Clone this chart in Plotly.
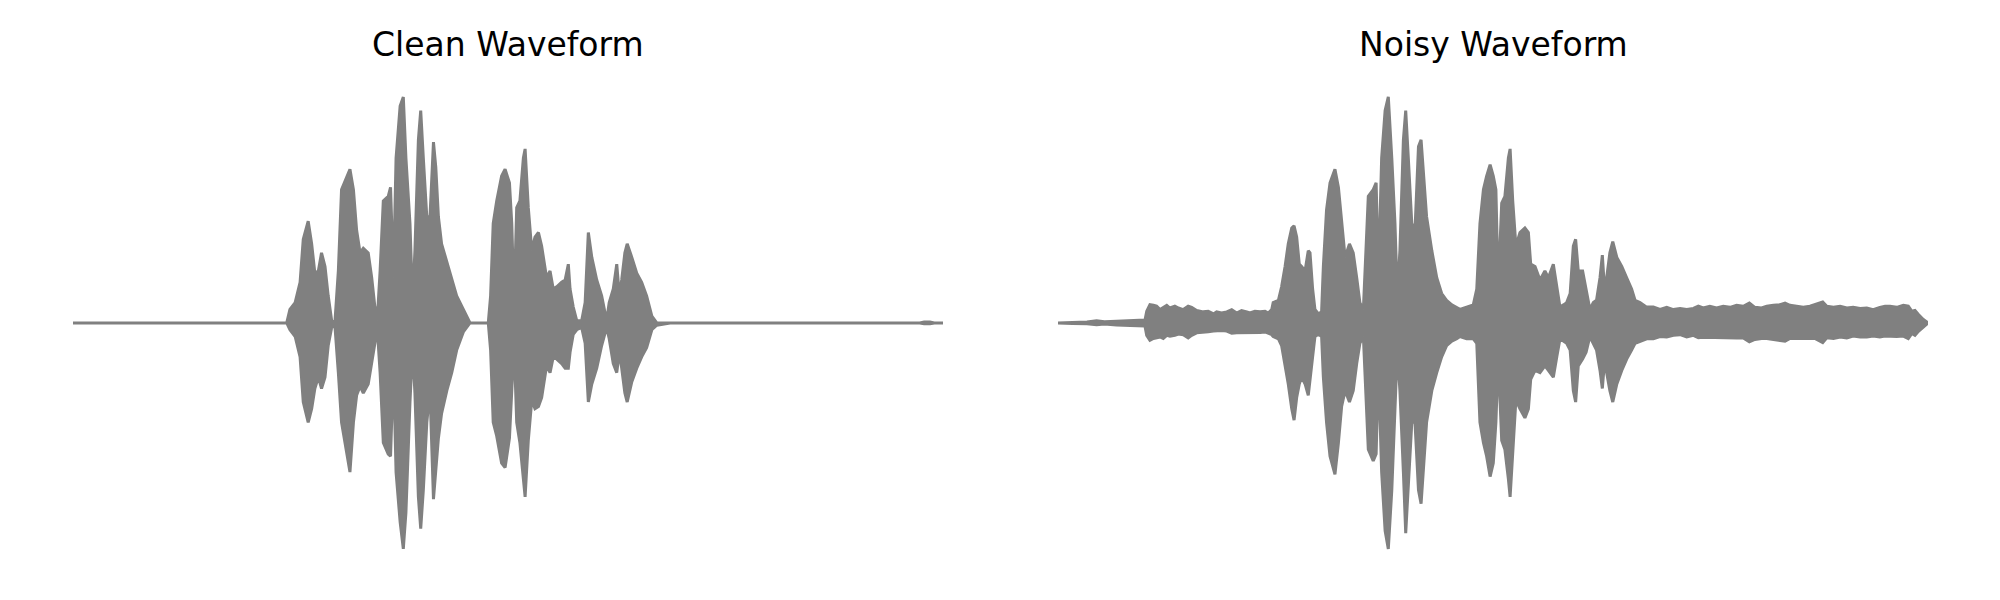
import plotly.graph_objects as go

# ---------------- Clean waveform: amplitude envelope ----------------
clean_time = [0.0,
    0.737, 0.748, 0.766, 0.783, 0.794, 0.811, 0.823, 0.834, 0.846, 0.857, 0.869, 0.880, 0.892,
    0.903, 0.915, 0.926, 0.938, 0.955, 0.967, 0.978, 0.990, 1.001, 1.018, 1.030, 1.041, 1.049,
    1.059, 1.070, 1.087, 1.095, 1.105, 1.114, 1.128, 1.139, 1.148, 1.162, 1.171, 1.179, 1.191,
    1.199, 1.208, 1.220, 1.231, 1.243, 1.251, 1.260, 1.271, 1.289, 1.306, 1.323, 1.346, 1.369,
    1.432, 1.440, 1.449, 1.461, 1.478, 1.490, 1.505, 1.513, 1.521, 1.530, 1.541, 1.553, 1.559,
    1.570, 1.582, 1.593, 1.605, 1.616, 1.633, 1.645, 1.656, 1.668, 1.685, 1.697, 1.708, 1.714,
    1.725, 1.737, 1.754, 1.766, 1.777, 1.789, 1.806, 1.823, 1.840, 1.849, 1.863, 1.875, 1.884,
    1.892, 1.903, 1.911, 1.927, 1.944, 1.961, 1.978, 1.996, 2.013, 2.059,
    2.920, 2.935, 2.955, 2.970, 3.0]
clean_upper = [0.0,
    0.00, 0.06, 0.09, 0.18, 0.37, 0.45, 0.35, 0.22, 0.23, 0.31, 0.25, 0.12, 0.01,
    0.00, 0.23, 0.59, 0.63, 0.68, 0.59, 0.41, 0.31, 0.33, 0.31, 0.20, 0.07, 0.01,
    0.23, 0.54, 0.56, 0.60, 0.20, 0.73, 0.96, 1.00, 0.73, 0.44, 0.09, 0.32, 0.81,
    0.94, 0.73, 0.47, 0.47, 0.80, 0.69, 0.47, 0.35, 0.27, 0.19, 0.12, 0.06, 0.00,
    0.00, 0.12, 0.44, 0.54, 0.65, 0.68, 0.62, 0.44, 0.09, 0.51, 0.54, 0.73, 0.77,
    0.51, 0.32, 0.38, 0.40, 0.34, 0.20, 0.23, 0.15, 0.16, 0.18, 0.19, 0.26, 0.15,
    0.07, 0.01, 0.01, 0.09, 0.40, 0.29, 0.19, 0.12, 0.01, 0.09, 0.15, 0.26, 0.12,
    0.19, 0.31, 0.35, 0.29, 0.22, 0.18, 0.12, 0.03, 0.00, 0.00,
    0.0, 0.004, 0.004, 0.0, 0.0]
clean_lower = [0.0,
    0.00, -0.03, -0.06, -0.15, -0.35, -0.44, -0.38, -0.29, -0.24, -0.29, -0.24, -0.10, -0.02,
    -0.01, -0.22, -0.44, -0.54, -0.66, -0.44, -0.32, -0.28, -0.31, -0.27, -0.18, -0.09, -0.02,
    -0.22, -0.53, -0.58, -0.59, -0.19, -0.66, -0.88, -1.00, -0.84, -0.35, -0.11, -0.31, -0.77,
    -0.91, -0.74, -0.44, -0.30, -0.78, -0.64, -0.51, -0.40, -0.30, -0.22, -0.12, -0.04, 0.00,
    0.00, -0.12, -0.44, -0.50, -0.62, -0.64, -0.51, -0.30, -0.09, -0.44, -0.53, -0.69, -0.77,
    -0.52, -0.34, -0.38, -0.37, -0.33, -0.19, -0.22, -0.15, -0.16, -0.18, -0.20, -0.20, -0.13,
    -0.05, -0.03, -0.02, -0.09, -0.35, -0.27, -0.20, -0.10, -0.02, -0.07, -0.18, -0.22, -0.13,
    -0.20, -0.31, -0.35, -0.26, -0.20, -0.15, -0.11, -0.03, -0.01, 0.00,
    0.0, -0.004, -0.004, 0.0, 0.0]

# ---------------- Noisy waveform: amplitude envelope ----------------
noisy_time = [
    0.0, 0.05, 0.10, 0.133, 0.16, 0.202, 0.25, 0.29, 0.300,
    0.306, 0.317, 0.329, 0.340, 0.352, 0.363, 0.375, 0.386, 0.403, 0.415, 0.432, 0.449, 0.461,
    0.478, 0.501, 0.518, 0.536, 0.547, 0.564, 0.582, 0.599, 0.616, 0.633, 0.651, 0.662, 0.679,
    0.697, 0.714, 0.725, 0.737,
    0.742, 0.760, 0.771, 0.783, 0.794, 0.806, 0.814, 0.823, 0.832, 0.840, 0.852, 0.863, 0.869,
    0.878, 0.886, 0.898, 0.909, 0.915, 0.926, 0.938, 0.955, 0.967, 0.978, 0.990, 1.005, 1.018,
    1.030, 1.041, 1.053, 1.059, 1.070, 1.087, 1.097, 1.105, 1.116, 1.128, 1.139, 1.151, 1.162,
    1.170, 1.179, 1.191, 1.199, 1.208, 1.220, 1.231, 1.243, 1.252, 1.260, 1.271, 1.289, 1.306,
    1.323, 1.340, 1.358, 1.375, 1.386,
    1.409, 1.432, 1.444, 1.455, 1.467, 1.478, 1.490, 1.501, 1.510, 1.518, 1.530, 1.541, 1.553,
    1.559, 1.568, 1.579, 1.593, 1.610, 1.622, 1.630, 1.645, 1.662, 1.679, 1.691, 1.708, 1.720,
    1.731, 1.743, 1.754, 1.766, 1.777, 1.785, 1.794, 1.809, 1.821, 1.834, 1.846, 1.857, 1.869,
    1.877, 1.884, 1.892, 1.903, 1.913, 1.927, 1.944, 1.961, 1.978, 1.990, 2.007, 2.030, 2.053,
    2.076,
    2.099, 2.122, 2.145, 2.168, 2.191, 2.208, 2.225, 2.248, 2.271, 2.294, 2.317, 2.340, 2.363,
    2.384, 2.403, 2.426, 2.444, 2.467, 2.490, 2.507, 2.524, 2.547, 2.570, 2.593, 2.610, 2.637,
    2.651, 2.674, 2.697, 2.720, 2.742, 2.766, 2.789, 2.811, 2.834, 2.852, 2.869, 2.892, 2.915,
    2.932, 2.944, 2.955, 2.967, 2.984, 3.0]
noisy_upper = [
    0.0, 0.003, 0.004, 0.010, 0.005, 0.008, 0.010, 0.012, 0.013,
    0.052, 0.081, 0.078, 0.074, 0.059, 0.069, 0.078, 0.066, 0.074, 0.066, 0.059, 0.074, 0.069,
    0.055, 0.049, 0.052, 0.040, 0.049, 0.044, 0.049, 0.059, 0.044, 0.055, 0.049, 0.044, 0.052,
    0.049, 0.052, 0.044, 0.059,
    0.09, 0.10, 0.16, 0.25, 0.35, 0.42, 0.43, 0.38, 0.26, 0.25, 0.23, 0.32, 0.31,
    0.15, 0.06, 0.04, 0.05, 0.25, 0.50, 0.62, 0.68, 0.60, 0.46, 0.29, 0.35, 0.31,
    0.20, 0.09, 0.06, 0.23, 0.56, 0.59, 0.62, 0.20, 0.73, 0.94, 1.00, 0.73, 0.44,
    0.12, 0.32, 0.81, 0.94, 0.73, 0.44, 0.41, 0.78, 0.81, 0.66, 0.47, 0.32, 0.20,
    0.13, 0.10, 0.08, 0.07, 0.06,
    0.07, 0.08, 0.15, 0.44, 0.59, 0.65, 0.70, 0.65, 0.59, 0.15, 0.53, 0.56, 0.73,
    0.77, 0.54, 0.34, 0.40, 0.42, 0.40, 0.26, 0.25, 0.19, 0.23, 0.20, 0.26, 0.15,
    0.07, 0.08, 0.09, 0.13, 0.34, 0.37, 0.23, 0.23, 0.15, 0.06, 0.09, 0.10, 0.20,
    0.30, 0.16, 0.20, 0.31, 0.36, 0.29, 0.25, 0.20, 0.15, 0.10, 0.09, 0.07, 0.07,
    0.06,
    0.069, 0.059, 0.064, 0.059, 0.064, 0.074, 0.066, 0.074, 0.066, 0.074, 0.069, 0.078, 0.074,
    0.088, 0.069, 0.066, 0.074, 0.078, 0.081, 0.088, 0.078, 0.074, 0.069, 0.074, 0.081, 0.093,
    0.074, 0.069, 0.074, 0.066, 0.069, 0.064, 0.066, 0.059, 0.069, 0.074, 0.074, 0.069, 0.078,
    0.074, 0.052, 0.055, 0.037, 0.015, 0.0]
noisy_lower = [
    0.0, -0.003, -0.004, -0.008, -0.005, -0.009, -0.011, -0.013, -0.014,
    -0.055, -0.077, -0.069, -0.066, -0.062, -0.069, -0.055, -0.059, -0.055, -0.049, -0.052, -0.066, -0.055,
    -0.044, -0.040, -0.039, -0.036, -0.033, -0.033, -0.036, -0.046, -0.043, -0.042, -0.042, -0.040, -0.042,
    -0.042, -0.040, -0.044, -0.052,
    -0.06, -0.07, -0.10, -0.19, -0.27, -0.38, -0.43, -0.33, -0.27, -0.24, -0.27, -0.32, -0.27,
    -0.15, -0.06, -0.05, -0.06, -0.24, -0.44, -0.59, -0.67, -0.53, -0.37, -0.30, -0.35, -0.30,
    -0.18, -0.09, -0.06, -0.24, -0.56, -0.61, -0.58, -0.19, -0.66, -0.92, -1.00, -0.74, -0.37,
    -0.12, -0.30, -0.66, -0.93, -0.74, -0.44, -0.44, -0.74, -0.80, -0.66, -0.44, -0.30, -0.22,
    -0.15, -0.10, -0.08, -0.07, -0.06,
    -0.07, -0.07, -0.09, -0.44, -0.53, -0.59, -0.68, -0.62, -0.44, -0.15, -0.52, -0.56, -0.69,
    -0.77, -0.59, -0.34, -0.38, -0.42, -0.38, -0.25, -0.21, -0.22, -0.19, -0.21, -0.24, -0.15,
    -0.07, -0.08, -0.09, -0.12, -0.30, -0.35, -0.19, -0.16, -0.13, -0.06, -0.09, -0.12, -0.21,
    -0.29, -0.18, -0.22, -0.30, -0.35, -0.27, -0.21, -0.16, -0.12, -0.09, -0.08, -0.07, -0.07,
    -0.06,
    -0.062, -0.055, -0.052, -0.062, -0.055, -0.065, -0.063, -0.062, -0.063, -0.063, -0.066, -0.067, -0.067,
    -0.084, -0.073, -0.069, -0.069, -0.073, -0.077, -0.081, -0.069, -0.069, -0.066, -0.069, -0.069, -0.087,
    -0.066, -0.069, -0.062, -0.066, -0.058, -0.062, -0.062, -0.058, -0.062, -0.058, -0.058, -0.060, -0.058,
    -0.069, -0.047, -0.055, -0.037, -0.018, 0.0]

titles = ["Clean Waveform", "Noisy Waveform"]

assert len(clean_time) == len(clean_upper) == len(clean_lower)
assert len(noisy_time) == len(noisy_upper) == len(noisy_lower)

WAVE_COLOR = "#808080"


def envelope_trace(t, up, lo, xa, ya):
    xs = list(t) + list(t)[::-1]
    ys = list(up) + list(lo)[::-1]
    return go.Scatter(x=xs, y=ys, mode="lines", fill="toself",
                      fillcolor=WAVE_COLOR,
                      line=dict(color=WAVE_COLOR, width=3, shape="linear"),
                      xaxis=xa, yaxis=ya, hoverinfo="skip", showlegend=False)


fig = go.Figure()
fig.add_trace(envelope_trace(clean_time, clean_upper, clean_lower, "x", "y"))
fig.add_trace(envelope_trace(noisy_time, noisy_upper, noisy_lower, "x2", "y2"))

yrange = [-1.226, 1.429]
title_font = dict(family="DejaVu Sans", size=33, color="black")
fig.update_layout(
    width=2000, height=600,
    margin=dict(l=0, r=0, t=0, b=0),
    paper_bgcolor="white", plot_bgcolor="white",
    xaxis=dict(domain=[0.0365, 0.4715], range=[0, 3.0], visible=False),
    yaxis=dict(domain=[0, 1], range=yrange, visible=False),
    xaxis2=dict(domain=[0.529, 0.964], range=[0, 3.0], visible=False, anchor="y2"),
    yaxis2=dict(domain=[0, 1], range=yrange, visible=False, anchor="x2"),
    annotations=[
        dict(text=titles[0], x=0.254, y=1 - 45 / 600, xref="paper", yref="paper",
             xanchor="center", yanchor="middle", showarrow=False, font=title_font),
        dict(text=titles[1], x=0.7465, y=1 - 45 / 600, xref="paper", yref="paper",
             xanchor="center", yanchor="middle", showarrow=False, font=title_font),
    ],
)

fig.write_html("out.html", config={"displayModeBar": False},
               post_script="document.body.style.margin='0';document.body.style.padding='0';")
